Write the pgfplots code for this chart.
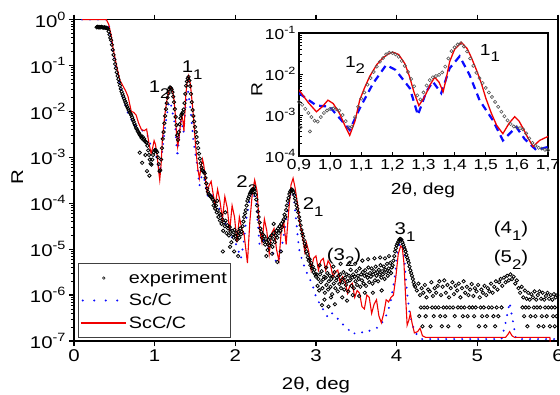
\documentclass[border=0pt]{standalone}
\usepackage{fontspec}
\setmainfont{Liberation Sans}[FakeStretch=1.2]
\usepackage{pgfplots}
\usepackage{pgfplotstable}
\pgfplotsset{compat=1.18}
\definecolor{myred}{RGB}{240,0,0}
\definecolor{myblue}{RGB}{10,10,255}
\definecolor{expgray}{RGB}{85,85,85}
\newcommand\tp[1]{10\raisebox{0.42em}{\fontsize{12}{12}\selectfont #1}}
\newcommand\tps[1]{10\raisebox{0.42em}{\fontsize{10.5}{10.5}\selectfont #1}}
\newcommand\lb[2]{#1\raisebox{-0.38em}{\fontsize{14}{14}\selectfont #2}}

\pgfplotstableread[row sep=\\]{x y\\
0.10 1\\ 0.20 1\\ 0.30 1\\ 0.40 1\\ 0.43 0.79\\ 0.46 0.46\\ 0.486 0.23\\ 0.527 0.10\\ 0.568 4.8e-2\\ 0.61 3.5e-2\\
0.64 2.8e-2\\ 0.67 2.1e-2\\ 0.71 1.0e-2\\ 0.74 9.5e-3\\ 0.77 8.3e-3\\ 0.80 5.6e-3\\ 0.836 4.0e-3\\ 0.87 3.8e-3\\ 0.90 4.1e-3\\
0.93 2.0e-3\\ 0.956 1.2e-3\\ 0.975 1.6e-3\\ 0.993 2.3e-3\\ 1.01 1.9e-3\\ 1.03 1.1e-3\\ 1.05 5.0e-4\\ 1.063 3.2e-4\\ 1.08 7.1e-4\\
1.095 2.3e-3\\ 1.11 4.5e-3\\ 1.127 8.7e-3\\ 1.15 1.7e-2\\ 1.17 2.5e-2\\ 1.19 3.2e-2\\ 1.202 3.4e-2\\ 1.22 3.0e-2\\ 1.24 1.8e-2\\
1.255 8.7e-3\\ 1.27 3.5e-3\\ 1.285 1.7e-3\\ 1.30 2.5e-3\\ 1.309 3.4e-3\\ 1.322 5.6e-3\\ 1.336 8.3e-3\\ 1.35 6.3e-3\\ 1.363 3.7e-3\\
1.372 7.1e-3\\ 1.384 2.0e-2\\ 1.40 4.0e-2\\ 1.422 5.9e-2\\ 1.44 4.2e-2\\ 1.454 2.5e-2\\ 1.47 1.26e-2\\ 1.486 5.9e-3\\ 1.50 2.6e-3\\
1.518 1.1e-3\\ 1.535 5.6e-4\\ 1.555 3.5e-4\\ 1.575 6.3e-4\\ 1.593 9.1e-4\\ 1.607 7.1e-4\\ 1.62 4.7e-4\\ 1.635 2.8e-4\\ 1.652 1.7e-4\\
1.673 2.4e-4\\ 1.70 3.0e-4\\ 1.72 1.8e-4\\ 1.75 8.9e-5\\ 1.78 2.0e-4\\ 1.81 1.1e-4\\ 1.84 4.5e-5\\ 1.87 1.4e-4\\ 1.90 7.9e-5\\
1.93 2.5e-5\\ 1.96 8.9e-5\\ 1.99 5.0e-5\\ 2.02 1.4e-5\\ 2.05 5.0e-5\\ 2.08 2.8e-5\\ 2.11 2.0e-5\\ 2.13 1.0e-5\\ 2.15 5.0e-6\\
2.18 4.0e-5\\ 2.21 1.6e-4\\ 2.24 3.2e-4\\ 2.27 1.8e-4\\ 2.30 2.8e-5\\ 2.33 1.4e-5\\ 2.36 4.5e-5\\ 2.39 2.5e-5\\ 2.42 7.9e-6\\
2.45 2.2e-5\\ 2.48 2.8e-5\\ 2.51 1.0e-5\\ 2.54 5.6e-6\\ 2.57 2.5e-5\\ 2.60 4.0e-5\\ 2.63 1.26e-5\\ 2.66 6.3e-5\\ 2.69 2.5e-4\\
2.716 3.5e-4\\ 2.74 2.2e-4\\ 2.77 1.0e-4\\ 2.80 3.5e-5\\ 2.83 2.2e-5\\ 2.86 8.9e-6\\ 2.88 1.4e-5\\ 2.91 8.9e-6\\ 2.94 3.5e-6\\
2.97 6.3e-6\\ 3.00 7.1e-6\\ 3.03 3.5e-6\\ 3.06 5.6e-6\\ 3.09 6.3e-6\\ 3.12 3.5e-6\\ 3.15 5.6e-6\\ 3.18 4.5e-6\\ 3.21 2.5e-6\\
3.24 3.2e-6\\ 3.27 3.5e-6\\ 3.30 1.8e-6\\ 3.33 2.5e-6\\ 3.36 2.0e-6\\ 3.39 1.1e-6\\ 3.42 1.6e-6\\ 3.45 1.8e-6\\ 3.48 8.9e-7\\
3.51 1.26e-6\\ 3.54 1.1e-6\\ 3.57 5.6e-7\\ 3.60 5.0e-7\\ 3.63 1.0e-6\\ 3.66 8.9e-7\\ 3.69 4.0e-7\\ 3.72 6.3e-7\\ 3.75 7.9e-7\\
3.78 3.5e-7\\ 3.81 2.5e-7\\ 3.84 4.0e-7\\ 3.87 7.9e-7\\ 3.90 7.1e-7\\ 3.93 8.9e-7\\ 3.96 1.0e-6\\ 3.99 2.5e-6\\ 4.02 7.9e-6\\
4.05 1.17e-5\\ 4.07 1.07e-5\\ 4.09 5.0e-6\\ 4.11 1.0e-6\\ 4.13 2.2e-7\\ 4.15 2.8e-7\\ 4.17 4.0e-7\\ 4.19 2.5e-7\\ 4.22 1.5e-7\\
4.26 1.6e-7\\ 4.29 1.9e-7\\ 4.32 1.3e-7\\ 4.36 1.2e-7\\ 5.35 1.2e-7\\ 5.38 1.4e-7\\ 5.40 1.6e-7\\ 5.43 1.3e-7\\ 5.46 1.2e-7\\
5.90 1.2e-7\\ 5.91 5e-8\\
}\redtab

\pgfplotstableread[row sep=\\]{x y\\
0.10 1\\ 0.40 1\\ 0.43 0.79\\ 0.46 0.40\\ 0.49 0.18\\ 0.52 8.9e-2\\ 0.56 4.5e-2\\ 0.60 2.2e-2\\ 0.65 1.1e-2\\ 0.70 7.1e-3\\
0.75 5.0e-3\\ 0.80 4.5e-3\\ 0.85 3.8e-3\\ 0.90 3.4e-3\\ 0.956 1.7e-3\\ 0.998 1.6e-3\\ 1.031 8.3e-4\\ 1.063 4.3e-4\\ 1.095 1.45e-3\\
1.138 5.9e-3\\ 1.18 1.66e-2\\ 1.21 1.26e-2\\ 1.256 4.5e-3\\ 1.282 1.0e-3\\ 1.309 3.7e-3\\ 1.33 6.5e-3\\ 1.357 3.4e-3\\ 1.384 1.38e-2\\
1.416 2.7e-2\\ 1.448 9.5e-3\\ 1.48 2.3e-3\\ 1.523 7.4e-4\\ 1.555 2.4e-4\\ 1.598 5.1e-4\\ 1.625 2.6e-4\\ 1.662 1.4e-4\\ 1.70 1.66e-4\\
1.73 1.1e-4\\ 1.76 8.9e-5\\ 1.80 7.9e-5\\ 1.84 5.0e-5\\ 1.88 3.5e-5\\ 1.92 3.2e-5\\ 1.96 1.8e-5\\ 2.00 1.4e-5\\ 2.04 8.9e-6\\
2.07 6.3e-6\\ 2.10 1.26e-5\\ 2.14 5.0e-5\\ 2.18 1.26e-4\\ 2.22 1.8e-4\\ 2.26 1.0e-4\\ 2.30 1.26e-5\\ 2.34 1.6e-5\\ 2.38 1.4e-5\\
2.42 1.0e-5\\ 2.46 8.9e-6\\ 2.50 5.6e-6\\ 2.53 5.0e-6\\ 2.57 1.0e-5\\ 2.61 2.5e-5\\ 2.65 7.9e-5\\ 2.69 1.8e-4\\ 2.72 1.6e-4\\
2.75 5.0e-5\\ 2.79 1.0e-5\\ 2.83 5.6e-6\\ 2.87 3.5e-6\\ 2.91 2.5e-6\\ 2.96 1.6e-6\\ 3.00 8.9e-7\\ 3.04 6.8e-7\\ 3.10 4.5e-7\\
3.15 3.2e-7\\ 3.20 4.0e-7\\ 3.25 3.5e-7\\ 3.30 2.5e-7\\ 3.37 2.1e-7\\ 3.45 1.4e-7\\ 3.53 1.6e-7\\ 3.61 1.5e-7\\ 3.70 1.8e-7\\
3.78 2.0e-7\\ 3.86 3.2e-7\\ 3.92 6.3e-7\\ 3.97 2.0e-6\\ 4.02 1.0e-5\\ 4.06 1.7e-5\\ 4.09 7.9e-6\\ 4.12 1.6e-6\\ 4.16 4.0e-7\\
4.22 1.6e-7\\ 4.30 1.1e-7\\ 5.30 1.1e-7\\ 5.35 2.5e-7\\ 5.40 6.9e-7\\ 5.44 2.8e-7\\ 5.48 1.1e-7\\ 6.00 1.1e-7\\
}\bluetab

% experiment: x and log10(R)
\pgfplotstableread[row sep=\\]{x lg\\
0.28 -0.17\\ 0.29 -0.16\\ 0.30 -0.17\\ 0.31 -0.16\\ 0.32 -0.17\\ 0.33 -0.17\\ 0.34 -0.16\\ 0.35 -0.17\\ 0.36 -0.17\\ 0.37 -0.18\\
0.38 -0.17\\ 0.39 -0.18\\ 0.40 -0.18\\ 0.41 -0.19\\ 0.42 -0.20\\
0.43 -0.26\\ 0.44 -0.33\\ 0.45 -0.40\\ 0.46 -0.45\\ 0.47 -0.55\\ 0.48 -0.66\\ 0.49 -0.77\\ 0.50 -0.87\\ 0.51 -0.97\\ 0.52 -1.06\\
0.53 -1.15\\ 0.54 -1.23\\ 0.55 -1.30\\ 0.56 -1.37\\ 0.57 -1.44\\ 0.58 -1.51\\ 0.59 -1.57\\ 0.60 -1.62\\ 0.61 -1.67\\ 0.62 -1.72\\
0.63 -1.77\\ 0.64 -1.81\\ 0.65 -1.86\\ 0.66 -1.90\\ 0.67 -1.94\\ 0.68 -1.98\\ 0.69 -2.02\\ 0.70 -2.05\\ 0.71 -2.08\\ 0.72 -2.13\\
0.73 -2.18\\ 0.74 -2.22\\ 0.75 -2.27\\ 0.76 -2.31\\ 0.77 -2.36\\ 0.78 -2.39\\ 0.79 -2.43\\ 0.80 -2.46\\ 0.81 -2.49\\ 0.82 -2.52\\
0.83 -2.55\\ 0.84 -2.58\\ 0.85 -2.55\\ 0.86 -2.62\\ 0.87 -2.60\\ 0.88 -2.65\\ 0.89 -2.67\\ 0.90 -2.68\\
0.815 -2.90\\ 0.845 -3.12\\ 0.885 -2.95\\ 0.905 -3.30\\ 0.935 -3.40\\
0.91 -2.75\\ 0.92 -2.85\\ 0.93 -2.95\\ 0.94 -3.05\\ 0.95 -3.14\\ 0.96 -3.16\\ 0.97 -3.05\\ 0.98 -2.95\\ 0.99 -2.89\\ 1.00 -2.85\\
1.01 -2.84\\ 1.02 -2.86\\ 1.03 -2.89\\ 1.04 -3.00\\ 1.05 -3.15\\ 1.06 -3.30\\ 1.07 -3.28\\ 1.08 -3.05\\ 1.09 -2.80\\ 1.10 -2.60\\
1.11 -2.45\\ 1.12 -2.26\\ 1.13 -2.10\\ 1.14 -1.95\\ 1.15 -1.82\\ 1.16 -1.70\\ 1.17 -1.61\\ 1.18 -1.52\\ 1.19 -1.48\\ 1.20 -1.49\\
1.21 -1.52\\ 1.22 -1.58\\ 1.23 -1.68\\ 1.24 -1.80\\ 1.25 -1.95\\ 1.26 -2.12\\ 1.27 -2.30\\ 1.28 -2.52\\ 1.29 -2.62\\ 1.30 -2.45\\
1.31 -2.28\\ 1.32 -2.15\\ 1.33 -2.08\\ 1.34 -2.05\\ 1.35 -2.02\\ 1.36 -1.96\\ 1.37 -1.82\\ 1.38 -1.62\\ 1.39 -1.44\\ 1.40 -1.35\\
1.41 -1.28\\ 1.42 -1.25\\ 1.43 -1.33\\ 1.44 -1.45\\ 1.45 -1.62\\ 1.46 -1.80\\ 1.47 -1.97\\ 1.48 -2.10\\ 1.49 -2.22\\ 1.50 -2.34\\
1.51 -2.45\\ 1.52 -2.56\\ 1.53 -2.68\\ 1.54 -2.80\\ 1.55 -2.92\\ 1.56 -3.03\\ 1.57 -3.13\\ 1.58 -3.22\\ 1.59 -3.28\\ 1.60 -3.30\\
1.61 -3.32\\ 1.62 -3.35\\ 1.63 -3.45\\ 1.64 -3.57\\ 1.65 -3.68\\ 1.66 -3.75\\ 1.67 -3.80\\ 1.68 -3.82\\ 1.69 -3.85\\ 1.70 -3.86\\
1.71 -3.88\\ 1.72 -3.92\\ 1.73 -4.05\\ 1.74 -3.98\\ 1.75 -4.12\\ 1.76 -4.05\\ 1.77 -4.20\\ 1.78 -4.15\\ 1.79 -4.30\\ 1.80 -4.22\\
1.81 -4.38\\ 1.82 -4.25\\ 1.83 -4.45\\ 1.84 -4.35\\ 1.85 -4.60\\ 1.86 -4.42\\ 1.87 -4.50\\ 1.88 -4.38\\ 1.89 -4.65\\ 1.90 -4.48\\
1.91 -4.55\\ 1.92 -4.70\\ 1.93 -4.52\\ 1.94 -4.62\\ 1.95 -4.85\\ 1.96 -4.60\\ 1.97 -4.68\\ 1.98 -4.75\\ 1.99 -4.58\\ 2.00 -4.72\\
2.01 -4.65\\ 2.02 -4.80\\ 2.03 -4.70\\ 2.04 -4.62\\ 2.05 -4.75\\ 2.06 -4.55\\ 2.07 -4.68\\ 2.08 -4.62\\ 2.09 -4.50\\ 2.10 -4.40\\
2.11 -4.30\\ 2.12 -4.22\\ 2.13 -4.15\\ 2.14 -4.05\\ 2.15 -3.95\\ 2.16 -3.90\\ 2.17 -3.85\\ 2.18 -3.80\\ 2.19 -3.76\\ 2.20 -3.73\\
2.21 -3.70\\ 2.22 -3.69\\ 2.23 -3.70\\ 2.24 -3.74\\ 2.25 -3.82\\ 2.26 -3.92\\ 2.27 -4.05\\ 2.28 -4.18\\ 2.29 -4.30\\ 2.30 -4.42\\
2.31 -4.55\\ 2.32 -4.62\\ 2.33 -4.75\\ 2.34 -4.68\\ 2.35 -4.82\\ 2.36 -4.72\\ 2.37 -4.90\\ 2.38 -4.78\\ 2.39 -4.85\\ 2.40 -5.02\\
2.41 -4.80\\ 2.42 -4.92\\ 2.43 -4.75\\ 2.44 -4.88\\ 2.45 -4.70\\ 2.46 -4.95\\ 2.47 -4.78\\ 2.48 -4.65\\ 2.49 -4.85\\ 2.50 -4.70\\
2.51 -4.60\\ 2.52 -4.75\\ 2.53 -4.55\\ 2.54 -4.65\\ 2.55 -4.50\\ 2.56 -4.60\\ 2.57 -4.45\\ 2.58 -4.52\\ 2.59 -4.40\\ 2.60 -4.35\\
2.61 -4.25\\ 2.62 -4.30\\ 2.63 -4.15\\ 2.64 -4.05\\ 2.65 -3.95\\ 2.66 -3.88\\ 2.67 -3.80\\ 2.68 -3.75\\ 2.69 -3.72\\ 2.70 -3.70\\
2.71 -3.72\\ 2.72 -3.76\\ 2.73 -3.82\\ 2.74 -3.90\\ 2.75 -3.98\\ 2.76 -4.05\\ 2.77 -4.12\\ 2.78 -4.20\\ 2.79 -4.30\\ 2.80 -4.38\\
2.81 -4.48\\ 2.82 -4.58\\ 2.83 -4.66\\ 2.84 -4.72\\ 2.85 -4.80\\ 2.86 -4.88\\ 2.87 -4.95\\ 2.88 -5.05\\ 2.89 -5.10\\ 2.90 -5.18\\
2.91 -5.25\\ 2.92 -5.22\\ 2.93 -5.35\\ 2.94 -5.30\\ 2.95 -5.42\\ 2.96 -5.38\\ 2.97 -5.50\\ 2.98 -5.45\\ 2.99 -5.55\\ 3.00 -5.60\\
1.845 -5.05\\ 1.935 -4.95\\ 1.985 -5.05\\ 2.035 -5.15\\ 2.385 -5.15\\ 2.455 -5.10\\ 2.52 -5.28\\ 2.565 -5.05\\ 1.775 -3.95\\ 1.875 -4.20\\ 2.475 -4.45\\
3.01 -5.55\\ 3.02 -5.80\\ 3.03 -5.65\\ 3.04 -5.90\\ 3.05 -5.55\\ 3.06 -5.72\\ 3.07 -5.48\\ 3.08 -5.85\\ 3.09 -5.66\\ 3.10 -5.60\\
3.11 -5.95\\ 3.12 -5.62\\ 3.13 -5.78\\ 3.14 -5.52\\ 3.15 -5.88\\ 3.16 -5.70\\ 3.17 -5.58\\ 3.18 -5.82\\ 3.19 -5.65\\ 3.20 -5.98\\
3.21 -5.60\\ 3.22 -5.75\\ 3.23 -5.50\\ 3.24 -5.85\\ 3.25 -5.68\\ 3.26 -5.62\\ 3.27 -5.92\\ 3.28 -5.58\\ 3.29 -5.76\\ 3.30 -5.55\\
3.31 -5.85\\ 3.32 -5.66\\ 3.33 -5.72\\ 3.34 -5.50\\ 3.35 -5.88\\ 3.36 -5.62\\ 3.37 -5.78\\ 3.38 -5.55\\ 3.39 -5.70\\ 3.40 -5.92\\
3.41 -5.58\\ 3.42 -5.68\\ 3.43 -5.45\\ 3.44 -5.80\\ 3.45 -5.62\\ 3.46 -5.55\\ 3.47 -5.85\\ 3.48 -5.60\\ 3.49 -5.70\\ 3.50 -5.48\\
3.51 -5.78\\ 3.52 -5.58\\ 3.53 -5.65\\ 3.54 -5.42\\ 3.55 -5.82\\ 3.56 -5.55\\ 3.57 -5.68\\ 3.58 -5.50\\ 3.59 -5.75\\ 3.60 -5.58\\
3.61 -5.46\\ 3.62 -5.80\\ 3.63 -5.55\\ 3.64 -5.62\\ 3.65 -5.40\\ 3.66 -5.72\\ 3.67 -5.52\\ 3.68 -5.60\\ 3.69 -5.42\\ 3.70 -5.75\\
3.71 -5.55\\ 3.72 -5.48\\ 3.73 -5.68\\ 3.74 -5.38\\ 3.75 -5.58\\ 3.76 -5.50\\ 3.77 -5.70\\ 3.78 -5.45\\ 3.79 -5.55\\ 3.80 -5.35\\
3.81 -5.62\\ 3.82 -5.48\\ 3.83 -5.55\\ 3.84 -5.38\\ 3.85 -5.65\\ 3.86 -5.45\\ 3.87 -5.50\\ 3.88 -5.32\\ 3.89 -5.58\\ 3.90 -5.42\\
3.91 -5.48\\ 3.92 -5.30\\ 3.93 -5.52\\ 3.94 -5.40\\ 3.95 -5.35\\
3.075 -6.22\\ 3.105 -6.10\\ 3.155 -6.25\\ 3.185 -6.05\\ 3.235 -6.20\\ 3.325 -6.05\\ 3.385 -6.12\\ 3.455 -6.00\\ 3.535 -6.02\\ 3.605 -5.95\\
3.705 -5.95\\ 3.815 -5.90\\ 3.045 -5.35\\ 3.125 -5.40\\ 3.215 -5.38\\ 3.305 -5.32\\ 3.415 -5.30\\ 3.485 -5.32\\ 3.575 -5.25\\ 3.645 -5.22\\
3.725 -5.20\\ 3.795 -5.18\\ 3.855 -5.20\\ 3.905 -5.15\\
3.96 -5.25\\ 3.97 -5.15\\ 3.98 -5.05\\ 3.99 -4.98\\ 4.00 -4.92\\ 4.01 -4.88\\ 4.02 -4.84\\ 4.03 -4.80\\ 4.04 -4.78\\ 4.05 -4.78\\
4.06 -4.80\\ 4.07 -4.85\\ 4.08 -4.90\\ 4.09 -4.95\\ 4.10 -5.00\\ 4.11 -5.05\\ 4.12 -5.12\\ 4.13 -5.18\\ 4.14 -5.24\\ 4.15 -5.30\\
4.16 -5.38\\ 4.17 -5.46\\ 4.18 -5.52\\ 4.19 -5.58\\ 4.20 -5.65\\ 4.21 -5.72\\ 4.22 -5.78\\ 4.23 -5.82\\
4.25 -5.90\\ 4.27 -5.75\\ 4.29 -6.00\\ 4.31 -5.85\\ 4.33 -5.95\\ 4.35 -5.78\\ 4.37 -6.05\\ 4.39 -5.88\\ 4.41 -5.92\\ 4.43 -5.72\\
4.45 -6.02\\ 4.47 -5.85\\ 4.49 -5.95\\ 4.51 -5.80\\ 4.53 -5.70\\ 4.55 -6.00\\ 4.57 -5.82\\ 4.59 -5.68\\ 4.61 -5.95\\ 4.63 -5.78\\
4.65 -6.05\\ 4.67 -5.85\\ 4.69 -5.72\\ 4.71 -5.98\\ 4.73 -5.80\\ 4.75 -5.90\\ 4.77 -5.75\\ 4.79 -6.05\\ 4.81 -5.85\\ 4.83 -5.70\\
4.85 -5.95\\ 4.87 -5.82\\ 4.89 -6.00\\ 4.91 -5.88\\ 4.93 -5.76\\ 4.95 -6.02\\ 4.97 -5.85\\ 4.99 -5.92\\ 5.01 -5.78\\ 5.03 -6.05\\
5.05 -5.88\\ 5.07 -5.95\\ 5.09 -5.80\\ 5.11 -6.00\\ 5.13 -5.85\\ 5.15 -5.92\\ 5.17 -5.75\\ 5.19 -5.95\\ 5.21 -5.82\\ 5.23 -5.70\\
5.25 -5.88\\ 5.27 -5.72\\ 5.29 -5.65\\ 5.31 -5.80\\ 5.33 -5.62\\ 5.35 -5.72\\ 5.37 -5.58\\ 5.39 -5.68\\ 5.41 -5.55\\ 5.43 -5.65\\
5.45 -5.60\\ 5.47 -5.75\\ 5.49 -5.68\\ 5.51 -5.85\\ 5.53 -5.95\\ 5.55 -5.82\\ 5.57 -6.05\\ 5.59 -5.90\\ 5.61 -6.08\\ 5.63 -5.95\\
5.65 -6.10\\ 5.67 -5.98\\ 5.69 -6.05\\ 5.71 -5.92\\ 5.73 -6.10\\ 5.75 -6.00\\ 5.77 -5.92\\ 5.79 -6.08\\ 5.81 -5.95\\ 5.83 -6.10\\
5.85 -6.02\\ 5.87 -5.95\\ 5.89 -6.08\\ 5.91 -6.00\\ 5.93 -6.10\\ 5.95 -5.98\\ 5.97 -6.05\\ 5.99 -6.00\\
4.30 -6.27\\ 4.34 -6.27\\ 4.38 -6.27\\ 4.44 -6.27\\ 4.48 -6.27\\ 4.52 -6.27\\ 4.58 -6.27\\ 4.62 -6.27\\ 4.66 -6.27\\ 4.70 -6.27\\
4.76 -6.27\\ 4.80 -6.27\\ 4.84 -6.27\\ 4.90 -6.27\\ 4.94 -6.27\\ 4.98 -6.27\\ 5.04 -6.27\\ 5.08 -6.27\\ 5.14 -6.27\\ 5.18 -6.27\\
5.24 -6.27\\ 5.30 -6.27\\ 5.56 -6.27\\ 5.60 -6.27\\ 5.64 -6.27\\ 5.70 -6.27\\ 5.74 -6.27\\ 5.78 -6.27\\ 5.84 -6.27\\ 5.88 -6.27\\
5.92 -6.27\\ 5.96 -6.27\\
4.28 -6.46\\ 4.36 -6.46\\ 4.46 -6.46\\ 4.54 -6.46\\ 4.60 -6.46\\ 4.72 -6.46\\ 4.82 -6.46\\ 4.88 -6.46\\ 4.96 -6.46\\ 5.06 -6.46\\
5.12 -6.46\\ 5.20 -6.46\\ 5.26 -6.46\\ 5.58 -6.46\\ 5.66 -6.46\\ 5.72 -6.46\\ 5.80 -6.46\\ 5.86 -6.46\\ 5.94 -6.46\\ 5.98 -6.46\\
4.32 -6.68\\ 4.42 -6.68\\ 4.56 -6.68\\ 4.64 -6.68\\ 4.78 -6.68\\ 5.02 -6.68\\ 5.10 -6.68\\ 5.22 -6.68\\ 5.62 -6.68\\ 5.76 -6.68\\
5.82 -6.68\\ 5.90 -6.68\\ 5.96 -6.68\\
}\exptab

\begin{document}
\begin{tikzpicture}
\begin{axis}[
  at={(0,0)}, anchor=south west, scale only axis,
  width=484pt, height=321.5pt,
  xmin=0, xmax=6, ymin=1e-7, ymax=1, ymode=log,
  axis line style={line width=1.6pt},
  xtick={0,1,2,3,4,5,6}, xticklabels={0,1,2,3,4,5,6},
  ytick={1e-7,1e-6,1e-5,1e-4,1e-3,1e-2,1e-1,1},
  yticklabels={\tp{-7},\tp{-6},\tp{-5},\tp{-4},\tp{-3},\tp{-2},\tp{-1},\tp{0}},
  minor ytick={2e-7,3e-7,4e-7,5e-7,6e-7,7e-7,8e-7,9e-7,2e-6,3e-6,4e-6,5e-6,6e-6,7e-6,8e-6,9e-6,
    2e-5,3e-5,4e-5,5e-5,6e-5,7e-5,8e-5,9e-5,2e-4,3e-4,4e-4,5e-4,6e-4,7e-4,8e-4,9e-4,
    2e-3,3e-3,4e-3,5e-3,6e-3,7e-3,8e-3,9e-3,2e-2,3e-2,4e-2,5e-2,6e-2,7e-2,8e-2,9e-2,
    0.2,0.3,0.4,0.5,0.6,0.7,0.8,0.9},
  tick align=outside, xtick pos=both, ytick pos=left,
  major tick length=5pt, minor tick length=3pt,
  every major tick/.append style={black, line width=1.2pt},
  every minor tick/.append style={black, line width=0.8pt},
  tick label style={font=\fontsize{17}{20}\selectfont},
  xlabel={2θ, deg}, ylabel={R},
  label style={font=\fontsize{17}{20}\selectfont},
  xlabel style={at={(axis description cs:0.5,-0.152)}, anchor=base},
  ylabel style={at={(axis description cs:-0.117,0.51)}, anchor=center},
  legend style={at={(axis description cs:0.008,0.009)}, anchor=south west,
    draw=black!75, line width=0.8pt, fill=white,
    font=\fontsize{16.5}{19}\selectfont, inner xsep=2pt, inner ysep=6pt, row sep=5pt},
  legend cell align=left,
]
\addplot[only marks, mark=o, mark size=1.7pt, mark options={black, line width=0.8pt},
  legend image code/.code={\draw[black, line width=0.5pt] (23pt,0pt) circle (1.3pt);}]
  table[x=x, y expr=10^(\thisrow{lg})] {\exptab};
\addlegendentry{experiment}
\addplot[myblue, line width=2.2pt, line cap=round, dash pattern=on 0pt off 8pt,
  legend image code/.code={\draw[myblue, line width=2.2pt, line cap=round, dash pattern=on 0pt off 11.5pt] (2pt,0pt) -- (45pt,0pt);}]
  table[x=x, y=y] {\bluetab};
\addlegendentry{Sc/C}
\addplot[myred, line width=1.1pt,
  legend image code/.code={\draw[myred, line width=1.1pt] (0pt,0pt) -- (45pt,0pt);}]
  table[x=x, y=y] {\redtab};
\addlegendentry{ScC/C}
\node[font=\fontsize{17}{20}\selectfont] at (axis description cs:0.176,0.781) {\lb{1}{2}};
\node[font=\fontsize{17}{20}\selectfont] at (axis description cs:0.244,0.843) {\lb{1}{1}};
\node[font=\fontsize{17}{20}\selectfont] at (axis description cs:0.357,0.485) {\lb{2}{2}};
\node[font=\fontsize{17}{20}\selectfont] at (axis description cs:0.494,0.417) {\lb{2}{1}};
\node[font=\fontsize{17}{20}\selectfont] at (axis description cs:0.558,0.261) {(\lb{3}{2})};
\node[font=\fontsize{17}{20}\selectfont] at (axis description cs:0.684,0.339) {\lb{3}{1}};
\node[font=\fontsize{17}{20}\selectfont] at (axis description cs:0.903,0.342) {(\lb{4}{1})};
\node[font=\fontsize{17}{20}\selectfont] at (axis description cs:0.903,0.252) {(\lb{5}{2})};
\end{axis}

\begin{axis}[
  at={(225pt,185pt)}, anchor=south west, scale only axis,
  width=249pt, height=123pt,
  xmin=0.9, xmax=1.7, ymin=1e-4, ymax=1e-1, ymode=log,
  axis background/.style={fill=white},
  axis line style={line width=1.4pt},
  xtick={0.9,1,1.1,1.2,1.3,1.4,1.5,1.6,1.7},
  xticklabels={{0,9},{1,0},{1,1},{1,2},{1,3},{1,4},{1,5},{1,6},{1,7}},
  ytick={1e-4,1e-3,1e-2,1e-1},
  yticklabels={\tps{-4},\tps{-3},\tps{-2},\tps{-1}},
  minor ytick={2e-4,3e-4,4e-4,5e-4,6e-4,7e-4,8e-4,9e-4,2e-3,3e-3,4e-3,5e-3,6e-3,7e-3,8e-3,9e-3,
    2e-2,3e-2,4e-2,5e-2,6e-2,7e-2,8e-2,9e-2},
  tick align=inside, xtick pos=left, ytick pos=left,
  major tick length=4pt, minor tick length=2.5pt,
  every major tick/.append style={black, line width=1pt},
  every minor tick/.append style={black, line width=0.7pt},
  tick label style={font=\fontsize{14.5}{17}\selectfont},
  xlabel={2θ, deg}, ylabel={R},
  label style={font=\fontsize{16}{19}\selectfont},
  xlabel style={at={(axis description cs:0.498,-0.309)}, anchor=base},
  ylabel style={at={(axis description cs:-0.169,0.537)}, anchor=center},
]
\addplot[only marks, mark=o, mark size=1.6pt, mark options={expgray, line width=0.6pt},
  restrict x to domain=0.9:1.7]
  table[x=x, y expr=10^(\thisrow{lg})] {\exptab};
\addplot[myblue, line width=2.2pt, dash pattern=on 7pt off 5pt, restrict x to domain=0.9:1.7]
  table[x=x, y=y] {\bluetab};
\addplot[myred, line width=1.3pt, restrict x to domain=0.9:1.7]
  table[x=x, y=y] {\redtab};
\node[font=\fontsize{16}{19}\selectfont] at (axis description cs:0.225,0.740) {\lb{1}{2}};
\node[font=\fontsize{16}{19}\selectfont] at (axis description cs:0.767,0.837) {\lb{1}{1}};
\end{axis}
\pgfresetboundingbox
\path[use as bounding box] (-74pt,-53pt) rectangle (486pt,341pt);
\end{tikzpicture}
\end{document}
